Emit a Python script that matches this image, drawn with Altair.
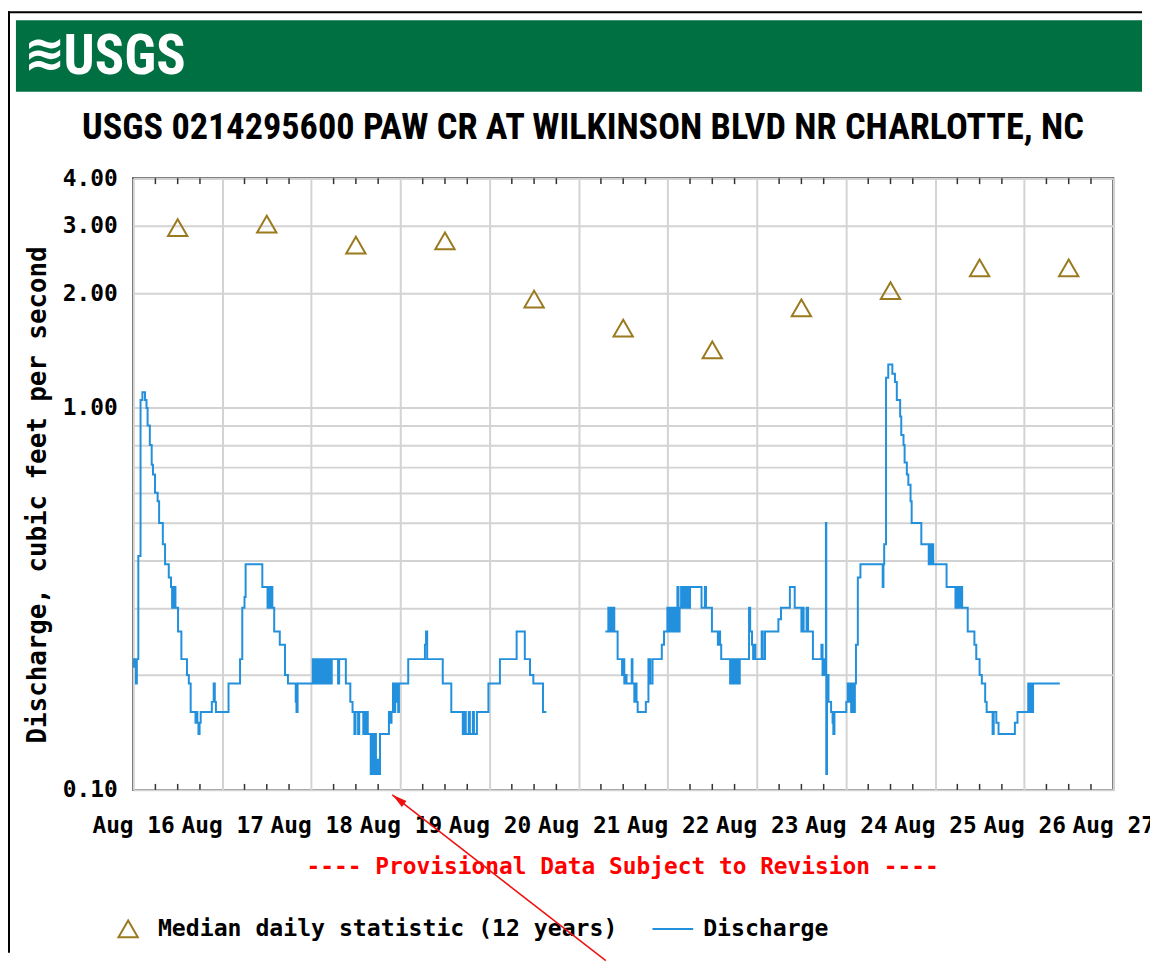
import altair as alt
import pandas as pd

# ---------------- data (hours since Aug 16 00:00, discharge in cfs) ----------------
seg1_hours = [0.0, 0.25, 0.5, 0.75, 1.0, 1.4, 2.0, 2.5, 3.2, 3.6, 3.9, 4.5, 5.0, 5.35, 5.9, 6.6, 7.0, 8.0, 8.6,
              9.6, 10.2, 10.5, 10.7, 10.9, 11.1, 11.4, 12.1, 13.0, 14.5, 15.0, 15.5, 16.8, 17.1, 17.3, 17.6, 17.9,
              18.2, 21.2, 21.7, 22.0, 22.3, 25.7, 28.8, 29.4, 30.0, 30.3, 34.8, 36.2, 36.5, 36.8, 37.2, 37.5, 38.0,
              39.5, 40.9, 41.7, 43.8, 44.0, 44.3, 48.4, 48.8, 49.2, 49.6, 49.9, 50.2, 50.5, 50.8, 51.1, 51.4, 51.7,
              52.0, 52.3, 52.6, 52.9, 53.2, 53.5, 55.2, 55.5, 57.3, 58.5, 59.1, 59.6, 59.9, 60.6, 60.9, 62.0, 62.3,
              62.6, 63.0, 63.2, 64.0, 64.4, 64.7, 65.1, 65.4, 65.8, 66.1, 66.5, 68.9, 69.3, 69.6, 70.0, 70.3, 70.6,
              70.9, 71.2, 71.4, 71.6, 74.1, 78.6, 78.9, 79.2, 83.4, 85.7, 88.8, 89.3, 89.6, 90.4, 90.7, 91.5, 91.8,
              92.6, 95.7, 98.8, 103.3, 105.5, 106.9, 107.8, 110.4, 111.3]
seg1_cfs = [0.22, 0.21, 0.22, 0.19, 0.22, 0.41, 1.05, 1.1, 1.05, 1.0, 0.90, 0.80, 0.71, 0.67, 0.60, 0.57, 0.50, 0.44, 0.39,
            0.36, 0.34, 0.30, 0.34, 0.30, 0.34, 0.30, 0.26, 0.22, 0.20, 0.19, 0.16, 0.15, 0.16, 0.15, 0.14, 0.15,
            0.16, 0.17, 0.19, 0.17, 0.16, 0.19, 0.22, 0.30, 0.32, 0.39, 0.34, 0.30, 0.34, 0.30, 0.34, 0.30, 0.26,
            0.24, 0.20, 0.19, 0.17, 0.16, 0.19, 0.22, 0.19, 0.22, 0.19, 0.22, 0.19, 0.22, 0.19, 0.22, 0.19, 0.22,
            0.19, 0.22, 0.19, 0.22, 0.19, 0.22, 0.19, 0.22, 0.19, 0.17, 0.16, 0.14, 0.16, 0.14, 0.16, 0.14, 0.16,
            0.14, 0.16, 0.14, 0.11, 0.14, 0.11, 0.14, 0.11, 0.12, 0.11, 0.14, 0.16, 0.15, 0.16, 0.19, 0.16, 0.19,
            0.17, 0.19, 0.16, 0.19, 0.22, 0.24, 0.26, 0.22, 0.19, 0.16, 0.14, 0.16, 0.14, 0.16, 0.14, 0.16, 0.14,
            0.16, 0.19, 0.22, 0.26, 0.22, 0.20, 0.19, 0.16, 0.16]

seg2_hours = [127.2, 128.0, 128.3, 128.6, 128.9, 129.2, 129.6, 130.5, 131.7, 132.0, 132.3, 132.6, 132.9, 134.3, 134.5,
              135.0, 135.3, 135.6, 135.9, 138.1, 138.8, 139.3, 139.9, 142.4, 143.0, 143.9, 144.2, 144.5, 144.8, 145.1,
              145.4, 145.7, 146.1, 146.6, 146.9, 147.2, 147.6, 147.9, 148.3, 148.6, 149.1, 149.5, 150.0, 153.1, 154.0,
              154.3, 155.9, 157.5, 157.8, 158.1, 158.4, 160.8, 161.1, 161.4, 161.7, 162.0, 162.3, 162.6, 162.9, 163.2,
              163.4, 165.9, 166.2, 166.7, 167.0, 167.3, 167.6, 169.3, 169.6, 170.2, 173.8, 174.5, 176.9, 178.2, 180.0,
              180.3, 180.6, 181.4, 181.8, 183.1, 185.4, 185.7, 186.0, 186.3, 186.6, 186.7, 186.9, 187.3, 188.0, 188.4,
              188.6, 188.9, 192.1, 192.5, 192.8, 193.1, 193.4, 193.7, 194.0, 194.4, 194.7, 195.2, 195.9, 201.9, 202.1,
              202.3, 202.8, 203.4, 204.5, 205.2, 205.7, 206.6, 206.9, 207.5, 207.8, 208.4, 208.8, 209.4, 209.7, 212.3,
              214.3, 214.6, 214.9, 215.2, 215.5, 219.1, 221.5, 221.8, 222.1, 222.4, 222.7, 223.0, 223.3, 224.8, 226.6,
              227.1, 228.0, 228.6, 229.5, 229.9, 231.5, 231.8, 232.5, 233.1, 237.5, 238.2, 241.1, 241.4, 241.7, 242.0,
              242.4, 249.6]
seg2_cfs = [0.26, 0.30, 0.26, 0.30, 0.26, 0.30, 0.26, 0.22, 0.20, 0.22, 0.19, 0.20, 0.19, 0.22, 0.19,
            0.17, 0.19, 0.17, 0.16, 0.17, 0.22, 0.19, 0.22, 0.24, 0.26, 0.30, 0.26, 0.30, 0.26, 0.30,
            0.26, 0.30, 0.26, 0.34, 0.26, 0.30, 0.34, 0.30, 0.34, 0.30, 0.34, 0.30, 0.34, 0.30, 0.34,
            0.30, 0.26, 0.24, 0.26, 0.24, 0.22, 0.19, 0.22, 0.19, 0.22, 0.19, 0.22, 0.19, 0.22, 0.19,
            0.22, 0.30, 0.26, 0.24, 0.22, 0.24, 0.22, 0.26, 0.22, 0.26, 0.28, 0.30, 0.34, 0.30, 0.26,
            0.30, 0.26, 0.30, 0.26, 0.22, 0.24, 0.20, 0.22, 0.20, 0.50, 0.11, 0.20, 0.17, 0.16, 0.15,
            0.14, 0.16, 0.17, 0.19, 0.17, 0.19, 0.16, 0.19, 0.16, 0.19, 0.24, 0.36, 0.39, 0.34, 0.39,
            0.44, 1.2, 1.3, 1.23, 1.17, 1.05, 0.95, 0.85, 0.80, 0.72, 0.67, 0.63, 0.57, 0.50, 0.44,
            0.39, 0.44, 0.39, 0.44, 0.39, 0.34, 0.30, 0.34, 0.30, 0.34, 0.30, 0.34, 0.30, 0.26, 0.24,
            0.22, 0.20, 0.19, 0.17, 0.16, 0.14, 0.16, 0.15, 0.14, 0.15, 0.16, 0.19, 0.16, 0.19, 0.16,
            0.19, 0.19]

median_hours = [12, 36, 60, 84, 108, 132, 156, 180, 204, 228, 252]
median_cfs = [2.97, 3.03, 2.67, 2.74, 1.93, 1.62, 1.42, 1.83, 2.03, 2.33, 2.33]

day_ticks = [0, 24, 48, 72, 96, 120, 144, 168, 192, 216, 240, 264]
minor_ticks = [h for h in range(6, 264, 6) if h % 24 != 0]
y_grid = [0.1, 0.2, 0.3, 0.4, 0.5, 0.6, 0.7, 0.8, 0.9, 1, 2, 3, 4]
y_labeled = [0.1, 1, 2, 3, 4]

title_text = "USGS 0214295600 PAW CR AT WILKINSON BLVD NR CHARLOTTE, NC"
y_title = "Discharge, cubic feet per second"
provisional = "---- Provisional Data Subject to Revision ----"
legend_median = "Median daily statistic (12 years)"
legend_q = "Discharge"

# ---------------- build ----------------
W, H = 987, 616
MONO = "DejaVu Sans Mono"
NARROW = "Roboto Condensed, Roboto, Liberation Sans"
GREEN = "#006F41"
BLUE = "#2290dc"
BROWN = "#9a7a1e"

q = pd.DataFrame({
    "h": seg1_hours + seg2_hours,
    "cfs": seg1_cfs + seg2_cfs,
    "seg": [1] * len(seg1_hours) + [2] * len(seg2_hours),
})
med = pd.DataFrame({"h": median_hours, "cfs": median_cfs})
ticks = pd.DataFrame({"h": minor_ticks})
one = pd.DataFrame({"a": [0]})

x_scale = alt.Scale(domain=[0, 264], nice=False, zero=False)
y_scale = alt.Scale(type="log", domain=[0.1, 4], nice=False)
x_axis = alt.Axis(values=day_ticks, grid=True, ticks=False, domain=False, title=None,
                  labelExpr="'Aug ' + (16 + datum.value / 24)", labelFlush=False,
                  labelOverlap=False, labelPadding=25, labelBaseline="top", labelAngle=0)
y_axis = alt.Axis(values=y_grid, grid=True, ticks=False, domain=False, title=None,
                  labelExpr="indexof([0.1, 1, 2, 3, 4], datum.value) >= 0 ? format(datum.value, '.2f') : ''",
                  labelOverlap=False, labelPadding=16, labelBaseline="middle")

X = alt.X("h:Q", scale=x_scale, axis=x_axis)
Y = alt.Y("cfs:Q", scale=y_scale, axis=y_axis)


def txt(s, x, y, size, color="black", font=MONO, weight="bold", align="left", angle=0):
    return alt.Chart(one).mark_text(
        text=s, font=font, fontSize=size, fontWeight=weight, color=color,
        align=align, baseline="middle", angle=angle
    ).encode(x=alt.value(x), y=alt.value(y))


header = alt.Chart(one).mark_rect(color=GREEN).encode(
    x=alt.value(-118), x2=alt.value(1016), y=alt.value(-159), y2=alt.value(-87))
border_l = alt.Chart(one).mark_rule(color="black", strokeWidth=2).encode(
    x=alt.value(-125), y=alt.value(-168), y2=alt.value(780))
border_t = alt.Chart(one).mark_rule(color="black", strokeWidth=2).encode(
    x=alt.value(-126), x2=alt.value(1016), y=alt.value(-167))
logo_wave = txt("≋", -110, -124, 50, color="white", font="DejaVu Sans")
logo_text = txt("USGS", -70, -122, 55, color="white", font=NARROW)
title = txt(title_text, 453, -50, 36.5, font=NARROW, align="center")
ytitle = txt(y_title, -96, 319, 26, align="center", angle=270)
prov = txt(provisional, 493, 694, 23, color="#ff0000", align="center")

tick_bottom = alt.Chart(ticks).mark_rule(color="#333333", strokeWidth=1.5).encode(
    x=X, y=alt.value(H), y2=alt.value(H - 6))
tick_top = alt.Chart(ticks).mark_rule(color="#333333", strokeWidth=1.5).encode(
    x=X, y=alt.value(0), y2=alt.value(6))

medians = alt.Chart(med).mark_point(
    shape="triangle-up", size=380, filled=False, color=BROWN, strokeWidth=2, opacity=1
).encode(x=X, y=Y)

discharge = alt.Chart(q).mark_line(
    interpolate="step-after", color=BLUE, strokeWidth=2
).encode(x=X, y=Y, detail="seg:N")

leg_tri = alt.Chart(one).mark_point(
    shape="triangle-up", size=380, filled=False, color=BROWN, strokeWidth=2, opacity=1
).encode(x=alt.value(-5), y=alt.value(756))
leg_tri_txt = txt(legend_median, 25, 756, 23.3)
leg_line = alt.Chart(one).mark_rule(color=BLUE, strokeWidth=2).encode(
    x=alt.value(523), x2=alt.value(564), y=alt.value(756))
leg_line_txt = txt(legend_q, 574, 756, 23.3)

arrow_line = alt.Chart(one).mark_rule(color="#ee1111", strokeWidth=1.5).encode(
    x=alt.value(261), y=alt.value(621), x2=alt.value(476), y2=alt.value(788))
arrow_head = alt.Chart(one).mark_point(
    shape="M0,-1L-0.5,1L0.5,1Z", size=225, filled=True, color="#ee1111", angle=308, opacity=1
).encode(x=alt.value(267), y=alt.value(625.6))

chart = alt.layer(
    header, border_l, border_t, logo_wave, logo_text, title, ytitle, prov,
    tick_bottom, tick_top, medians, discharge,
    leg_tri, leg_tri_txt, leg_line, leg_line_txt,
    arrow_line, arrow_head,
).properties(
    width=W, height=H,
    padding={"left": 126, "top": 168, "right": 37, "bottom": 172},
    autosize=alt.AutoSizeParams(type="none"),
    background="white",
).configure_view(
    stroke="#333333", strokeWidth=2
).configure_axis(
    gridColor="#d3d3d3", gridWidth=2, labelFont=MONO, labelFontWeight="bold",
    labelFontSize=23, labelColor="black"
)

chart.save("out.html", embed_options={"renderer": "svg", "actions": False})
